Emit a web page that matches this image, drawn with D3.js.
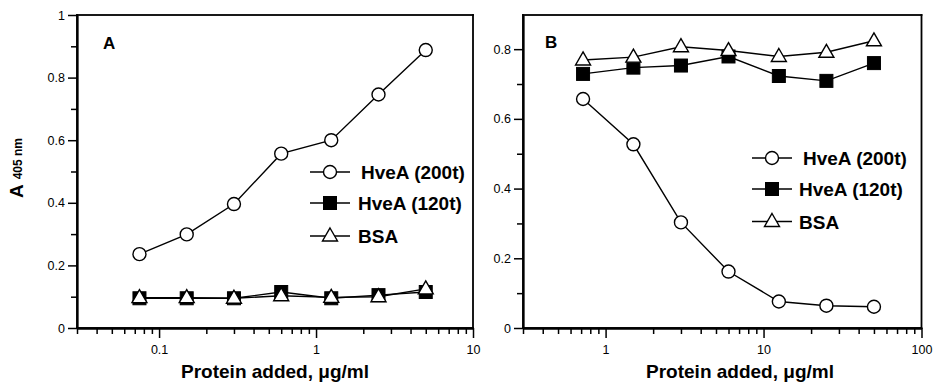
<!DOCTYPE html>
<html>
<head>
<meta charset="utf-8">
<script src="https://cdn.jsdelivr.net/npm/d3@7"></script>
<style>
  html, body { margin: 0; padding: 0; background: #fff; }
  svg { display: block; }
  text { font-family: "Liberation Sans", Arial, Helvetica, sans-serif; fill: #000; }
</style>
</head>
<body>
<svg id="chart" width="933" height="385"></svg>
<script>
// ---------- Data ----------
const seriesNames = ["HveA (200t)", "HveA (120t)", "BSA"];

// Panel A
const xA = [0.075, 0.15, 0.3, 0.6, 1.25, 2.5, 5];
const hvea200A = [0.236, 0.299, 0.396, 0.557, 0.600, 0.746, 0.888];
const hvea120A = [0.095, 0.095, 0.095, 0.115, 0.095, 0.105, 0.115];
const bsaA     = [0.097, 0.097, 0.095, 0.103, 0.098, 0.100, 0.125];

// Panel B
const xB = [0.72, 1.5, 3, 6, 12.5, 25, 50];
const hvea200B = [0.657, 0.527, 0.303, 0.162, 0.076, 0.064, 0.061];
const hvea120B = [0.729, 0.747, 0.753, 0.779, 0.723, 0.709, 0.760];
const bsaB     = [0.769, 0.777, 0.807, 0.796, 0.779, 0.791, 0.824];

// Tick labels
const xTicksA = [0.1, 1, 10];
const xTickLabelsA = ["0.1", "1", "10"];
const xTicksB = [1, 10, 100];
const xTickLabelsB = ["1", "10", "100"];
const yTicksA = [0, 0.2, 0.4, 0.6, 0.8, 1];
const yTickLabelsA = ["0", "0.2", "0.4", "0.6", "0.8", "1"];
const yTicksB = [0, 0.2, 0.4, 0.6, 0.8];
const yTickLabelsB = ["0", "0.2", "0.4", "0.6", "0.8"];
const yMinorA = [0.1, 0.3, 0.5, 0.7, 0.9];
const yMinorB = [0.1, 0.3, 0.5, 0.7];

const xLabel = "Protein added, \u03bcg/ml";

// ---------- Drawing ----------
const svg = d3.select("#chart");

function minorLogTicks(lo, hi) {
  const out = [];
  for (let e = Math.floor(Math.log10(lo)); e <= Math.ceil(Math.log10(hi)); e++) {
    for (let m = 2; m <= 9; m++) {
      const v = m * Math.pow(10, e);
      if (v >= lo * 0.999 && v <= hi * 1.001) out.push(v);
    }
  }
  return out;
}

function drawMarkers(g, pts, type) {
  if (type === "circle") {
    g.selectAll(null).data(pts).enter().append("circle")
      .attr("cx", d => d[0]).attr("cy", d => d[1]).attr("r", 6.5)
      .attr("fill", "#fff").attr("stroke", "#000").attr("stroke-width", 1.4);
  } else if (type === "square") {
    g.selectAll(null).data(pts).enter().append("rect")
      .attr("x", d => d[0] - 6.5).attr("y", d => d[1] - 6.5).attr("width", 13).attr("height", 13)
      .attr("fill", "#000").attr("stroke", "#000").attr("stroke-width", 1);
  } else {
    g.selectAll(null).data(pts).enter().append("path")
      .attr("d", d => `M${d[0]},${d[1] - 8}L${d[0] + 7.5},${d[1] + 5}L${d[0] - 7.5},${d[1] + 5}Z`)
      .attr("fill", "#fff").attr("stroke", "#000").attr("stroke-width", 1.4);
  }
}

function panel(cfg) {
  const g = svg.append("g");
  const x = d3.scaleLog().domain(cfg.xDomain).range([cfg.left, cfg.right]);
  const y = d3.scaleLinear().domain(cfg.yDomain).range([cfg.bottom, cfg.top]);

  // x axis major
  const xMaj = g.append("g").attr("transform", `translate(0,${cfg.bottom})`)
    .call(d3.axisBottom(x).tickValues(cfg.xTicks).tickFormat((d, i) => cfg.xTickLabels[i]).tickSize(10).tickSizeOuter(0).tickPadding(7));
  const xMin = g.append("g").attr("transform", `translate(0,${cfg.bottom})`)
    .call(d3.axisBottom(x).tickValues(minorLogTicks(cfg.xDomain[0], cfg.xDomain[1])).tickFormat("").tickSize(6).tickSizeOuter(0));

  // y axis
  const yMaj = g.append("g").attr("transform", `translate(${cfg.left},0)`)
    .call(d3.axisLeft(y).tickValues(cfg.yTicks).tickFormat((d, i) => cfg.yTickLabels[i]).tickSize(9).tickSizeOuter(0).tickPadding(3));
  const yMin = g.append("g").attr("transform", `translate(${cfg.left},0)`)
    .call(d3.axisLeft(y).tickValues(cfg.yMinor).tickFormat("").tickSize(6).tickSizeOuter(0));

  [xMaj, xMin, yMaj, yMin].forEach(a => {
    a.select(".domain").attr("stroke", "#000").attr("stroke-width", 1.8);
    a.selectAll(".tick line").attr("stroke", "#000").attr("stroke-width", 1.5);
    a.selectAll(".tick text").attr("font-size", 12.5).attr("font-family", "Liberation Sans, Arial, sans-serif").attr("fill", "#000");
  });

  // frame drawn as four filled bars
  const [x0, x1] = x.range();
  const [y1, y0] = y.range();
  const t = 1.8;
  const bars = [
    [x0 - t / 2, y0 - t / 2, x1 - x0 + t, t],
    [x0 - t / 2, y1 - t / 2, x1 - x0 + t, t],
    [x0 - t / 2, y0 - t / 2, t, y1 - y0 + t],
    [x1 - t / 2, y0 - t / 2, t, y1 - y0 + t]
  ];
  g.selectAll(null).data(bars).enter().append("rect")
    .attr("x", d => d[0]).attr("y", d => d[1]).attr("width", d => d[2]).attr("height", d => d[3])
    .attr("fill", "#000");

  // panel letter
  g.append("text").attr("x", cfg.letterX).attr("y", cfg.letterY)
    .attr("font-size", 17).attr("font-weight", "bold").text(cfg.letter);

  // x label
  g.append("text").attr("x", cfg.xLabelX).attr("y", 378)
    .attr("text-anchor", "middle").attr("font-size", 19).attr("font-weight", "bold").text(xLabel);

  const line = d3.line().x(d => x(d[0])).y(d => y(d[1]));
  const series = cfg.series;

  series.forEach(s => {
    const pts = cfg.xs.map((v, i) => [v, s.values[i]]);
    g.append("path").datum(pts).attr("d", line)
      .attr("fill", "none").attr("stroke", "#000").attr("stroke-width", 1.4);
  });
  series.forEach(s => {
    const pts = cfg.xs.map((v, i) => [v, s.values[i]]);
    drawMarkers(g, pts.map(p => [x(p[0]), y(p[1])]), s.type);
  });

  // legend
  series.forEach((s, i) => {
    const ly = cfg.legY[i];
    g.append("line").attr("x1", cfg.legX1).attr("x2", cfg.legX2).attr("y1", ly).attr("y2", ly)
      .attr("stroke", "#000").attr("stroke-width", 1.4);
    drawMarkers(g, [[(cfg.legX1 + cfg.legX2) / 2, ly]], s.type);
    g.append("text").attr("x", cfg.legTextX[i]).attr("y", ly + 7)
      .attr("font-size", 19).attr("font-weight", "bold").text(seriesNames[i]);
  });

  return { x, y };
}

panel({
  left: 77, right: 473, top: 15, bottom: 328,
  xDomain: [0.03, 10], yDomain: [0, 1],
  xTicks: xTicksA, xTickLabels: xTickLabelsA,
  yTicks: yTicksA, yTickLabels: yTickLabelsA, yMinor: yMinorA,
  letter: "A", letterX: 103, letterY: 49,
  xLabelX: 275,
  xs: xA,
  series: [
    { values: hvea200A, type: "circle" },
    { values: hvea120A, type: "square" },
    { values: bsaA, type: "triangle" }
  ],
  legY: [172, 203, 236], legX1: 310, legX2: 350, legTextX: [361, 358, 358]
});

panel({
  left: 523, right: 921.5, top: 15, bottom: 328,
  xDomain: [0.3, 100], yDomain: [0, 0.898],
  xTicks: xTicksB, xTickLabels: xTickLabelsB,
  yTicks: yTicksB, yTickLabels: yTickLabelsB, yMinor: yMinorB,
  letter: "B", letterX: 545, letterY: 48,
  xLabelX: 740,
  xs: xB,
  series: [
    { values: hvea200B, type: "circle" },
    { values: hvea120B, type: "square" },
    { values: bsaB, type: "triangle" }
  ],
  legY: [158, 189, 221.5], legX1: 752, legX2: 792, legTextX: [803, 799, 799]
});

// y-axis title
const yt = svg.append("text")
  .attr("transform", "translate(23,168) rotate(-90)")
  .attr("text-anchor", "middle").attr("font-weight", "bold");
yt.append("tspan").attr("font-size", 19).text("A");
yt.append("tspan").attr("font-size", 12).attr("dx", 5).attr("dy", -1).text("405 nm");
</script>
</body>
</html>
